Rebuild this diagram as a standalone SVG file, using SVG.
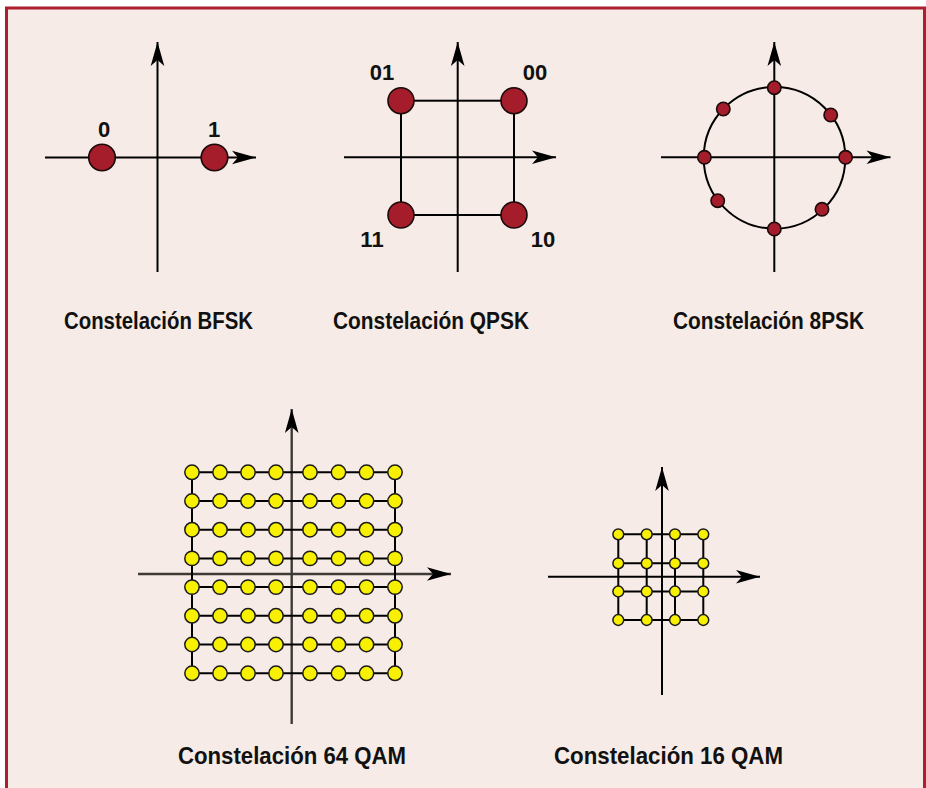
<svg xmlns="http://www.w3.org/2000/svg" xmlns:xlink="http://www.w3.org/1999/xlink" width="926" height="788" viewBox="0 0 926 788">
  <style>
    .axis { stroke: #000; stroke-width: 2; fill: none; }
    .axis-gray { stroke: #3d3a38; stroke-width: 2.4; fill: none; }
    .grid { stroke: #000; stroke-width: 2; fill: none; }
    .red { fill: #a51c2a; stroke: #1a0a0a; stroke-width: 1.6; }
    .yel { fill: #f7f000; stroke: #1a1a1a; stroke-width: 1.5; }
    .num { font-family: "Liberation Sans", Arial, sans-serif; font-weight: bold; font-size: 22px; fill: #111; text-anchor: middle; }
    .title { font-family: "Liberation Sans", Arial, sans-serif; font-weight: bold; font-size: 24.5px; fill: #111; }
  </style>
  <defs>
    <marker id="arrow" markerUnits="userSpaceOnUse" viewBox="-25 -8 26 16" markerWidth="26" markerHeight="16" refX="0" refY="0" orient="auto">
      <path d="M0,0 L-24,-6.8 L-18,0 L-24,6.8 Z" fill="#000"/>
    </marker>
    <circle id="dot64" r="7.2" class="yel"/>
    <circle id="dot16" r="5.4" class="yel"/>
  </defs>

  <!-- frame -->
  <rect x="6.5" y="8" width="918" height="800" fill="#f6ebe6" stroke="#ae1f2e" stroke-width="3"/>

  <!-- BFSK -->
  <g id="bfsk">
    <g id="bfsk-axes">
      <line class="axis" x1="45" y1="157.5" x2="256" y2="157.5" marker-end="url(#arrow)"/>
      <line class="axis" x1="157.5" y1="272" x2="157.5" y2="42" marker-end="url(#arrow)"/>
    </g>
    <g id="bfsk-0"><circle class="red" cx="102" cy="157.5" r="13.3"/><text class="num" x="104" y="137">0</text></g>
    <g id="bfsk-1"><circle class="red" cx="214.5" cy="157.5" r="13.3"/><text class="num" x="214" y="137">1</text></g>
    <text id="bfsk-title" class="title" x="64" y="329" textLength="189" lengthAdjust="spacingAndGlyphs">Constelación BFSK</text>
  </g>

  <!-- QPSK -->
  <g id="qpsk">
    <g id="qpsk-lines">
      <rect class="grid" x="401" y="100.7" width="113" height="114.3"/>
      <line class="axis" x1="344" y1="157.3" x2="556" y2="157.3" marker-end="url(#arrow)"/>
      <line class="axis" x1="457.7" y1="272" x2="457.7" y2="42" marker-end="url(#arrow)"/>
    </g>
    <g id="qpsk-01"><circle class="red" cx="401" cy="100.7" r="13"/><text class="num" x="382" y="80">01</text></g>
    <g id="qpsk-00"><circle class="red" cx="514" cy="100.7" r="13"/><text class="num" x="535" y="80">00</text></g>
    <g id="qpsk-11"><circle class="red" cx="401" cy="215" r="13"/><text class="num" x="372" y="247">11</text></g>
    <g id="qpsk-10"><circle class="red" cx="514" cy="215" r="13"/><text class="num" x="543" y="247">10</text></g>
    <text id="qpsk-title" class="title" x="333" y="329" textLength="196" lengthAdjust="spacingAndGlyphs">Constelación QPSK</text>
  </g>

  <!-- 8PSK -->
  <g id="psk8">
    <g id="psk8-lines">
      <circle class="grid" cx="774.5" cy="157.8" r="70.8"/>
      <line class="axis" x1="661" y1="157.3" x2="890.5" y2="157.3" marker-end="url(#arrow)"/>
      <line class="axis" x1="774.3" y1="272" x2="774.3" y2="42" marker-end="url(#arrow)"/>
    </g>
    <g id="psk8-points">
      <circle class="red" cx="774.3" cy="87.7" r="6.7"/>
      <circle class="red" cx="830.7" cy="115" r="6.7"/>
      <circle class="red" cx="845.6" cy="157.3" r="6.7"/>
      <circle class="red" cx="822" cy="209.3" r="6.7"/>
      <circle class="red" cx="774.3" cy="229" r="6.7"/>
      <circle class="red" cx="717.7" cy="200.7" r="6.7"/>
      <circle class="red" cx="704.4" cy="157.3" r="6.7"/>
      <circle class="red" cx="723.3" cy="109" r="6.7"/>
    </g>
    <text id="psk8-title" class="title" x="673" y="329" textLength="191" lengthAdjust="spacingAndGlyphs">Constelación 8PSK</text>
  </g>

  <!-- 64 QAM -->
  <g id="qam64">
    <g id="qam64-lines">
      <line class="axis-gray" x1="138" y1="574" x2="451" y2="574" marker-end="url(#arrow)"/>
      <line class="axis-gray" x1="291.7" y1="724" x2="291.7" y2="409" marker-end="url(#arrow)"/>
      <path class="grid" d="M192,472.3 V673.3 M395,472.3 V673.3
        M192,472.3 H395 M192,501 H395 M192,529.7 H395 M192,558.4 H395
        M192,587.1 H395 M192,615.8 H395 M192,644.5 H395 M192,673.3 H395"/>
    </g>
    <g id="qam64-points">
      <use href="#dot64" x="192" y="472.3"/><use href="#dot64" x="220" y="472.3"/><use href="#dot64" x="248" y="472.3"/><use href="#dot64" x="276" y="472.3"/><use href="#dot64" x="310" y="472.3"/><use href="#dot64" x="338.5" y="472.3"/><use href="#dot64" x="366.5" y="472.3"/><use href="#dot64" x="395" y="472.3"/>
      <use href="#dot64" x="192" y="501"/><use href="#dot64" x="220" y="501"/><use href="#dot64" x="248" y="501"/><use href="#dot64" x="276" y="501"/><use href="#dot64" x="310" y="501"/><use href="#dot64" x="338.5" y="501"/><use href="#dot64" x="366.5" y="501"/><use href="#dot64" x="395" y="501"/>
      <use href="#dot64" x="192" y="529.7"/><use href="#dot64" x="220" y="529.7"/><use href="#dot64" x="248" y="529.7"/><use href="#dot64" x="276" y="529.7"/><use href="#dot64" x="310" y="529.7"/><use href="#dot64" x="338.5" y="529.7"/><use href="#dot64" x="366.5" y="529.7"/><use href="#dot64" x="395" y="529.7"/>
      <use href="#dot64" x="192" y="558.4"/><use href="#dot64" x="220" y="558.4"/><use href="#dot64" x="248" y="558.4"/><use href="#dot64" x="276" y="558.4"/><use href="#dot64" x="310" y="558.4"/><use href="#dot64" x="338.5" y="558.4"/><use href="#dot64" x="366.5" y="558.4"/><use href="#dot64" x="395" y="558.4"/>
      <use href="#dot64" x="192" y="587.1"/><use href="#dot64" x="220" y="587.1"/><use href="#dot64" x="248" y="587.1"/><use href="#dot64" x="276" y="587.1"/><use href="#dot64" x="310" y="587.1"/><use href="#dot64" x="338.5" y="587.1"/><use href="#dot64" x="366.5" y="587.1"/><use href="#dot64" x="395" y="587.1"/>
      <use href="#dot64" x="192" y="615.8"/><use href="#dot64" x="220" y="615.8"/><use href="#dot64" x="248" y="615.8"/><use href="#dot64" x="276" y="615.8"/><use href="#dot64" x="310" y="615.8"/><use href="#dot64" x="338.5" y="615.8"/><use href="#dot64" x="366.5" y="615.8"/><use href="#dot64" x="395" y="615.8"/>
      <use href="#dot64" x="192" y="644.5"/><use href="#dot64" x="220" y="644.5"/><use href="#dot64" x="248" y="644.5"/><use href="#dot64" x="276" y="644.5"/><use href="#dot64" x="310" y="644.5"/><use href="#dot64" x="338.5" y="644.5"/><use href="#dot64" x="366.5" y="644.5"/><use href="#dot64" x="395" y="644.5"/>
      <use href="#dot64" x="192" y="673.3"/><use href="#dot64" x="220" y="673.3"/><use href="#dot64" x="248" y="673.3"/><use href="#dot64" x="276" y="673.3"/><use href="#dot64" x="310" y="673.3"/><use href="#dot64" x="338.5" y="673.3"/><use href="#dot64" x="366.5" y="673.3"/><use href="#dot64" x="395" y="673.3"/>
    </g>
    <text id="qam64-title" class="title" x="178" y="764" textLength="228" lengthAdjust="spacingAndGlyphs">Constelación 64 QAM</text>
  </g>

  <!-- 16 QAM -->
  <g id="qam16">
    <g id="qam16-lines">
      <path class="grid" d="M618.3,534.3 V620 M646.7,534.3 V620 M675,534.3 V620 M703.3,534.3 V620
        M618.3,534.3 H703.3 M618.3,563.3 H703.3 M618.3,591.5 H703.3 M618.3,620 H703.3"/>
      <line class="axis" x1="548" y1="576.7" x2="760" y2="576.7" marker-end="url(#arrow)"/>
      <line class="axis" x1="662" y1="695" x2="662" y2="467" marker-end="url(#arrow)"/>
    </g>
    <g id="qam16-points">
      <use href="#dot16" x="618.3" y="534.3"/><use href="#dot16" x="646.7" y="534.3"/><use href="#dot16" x="675" y="534.3"/><use href="#dot16" x="703.3" y="534.3"/>
      <use href="#dot16" x="618.3" y="563.3"/><use href="#dot16" x="646.7" y="563.3"/><use href="#dot16" x="675" y="563.3"/><use href="#dot16" x="703.3" y="563.3"/>
      <use href="#dot16" x="618.3" y="591.5"/><use href="#dot16" x="646.7" y="591.5"/><use href="#dot16" x="675" y="591.5"/><use href="#dot16" x="703.3" y="591.5"/>
      <use href="#dot16" x="618.3" y="620"/><use href="#dot16" x="646.7" y="620"/><use href="#dot16" x="675" y="620"/><use href="#dot16" x="703.3" y="620"/>
    </g>
    <text id="qam16-title" class="title" x="554" y="764" textLength="229" lengthAdjust="spacingAndGlyphs">Constelación 16 QAM</text>
  </g>
</svg>
